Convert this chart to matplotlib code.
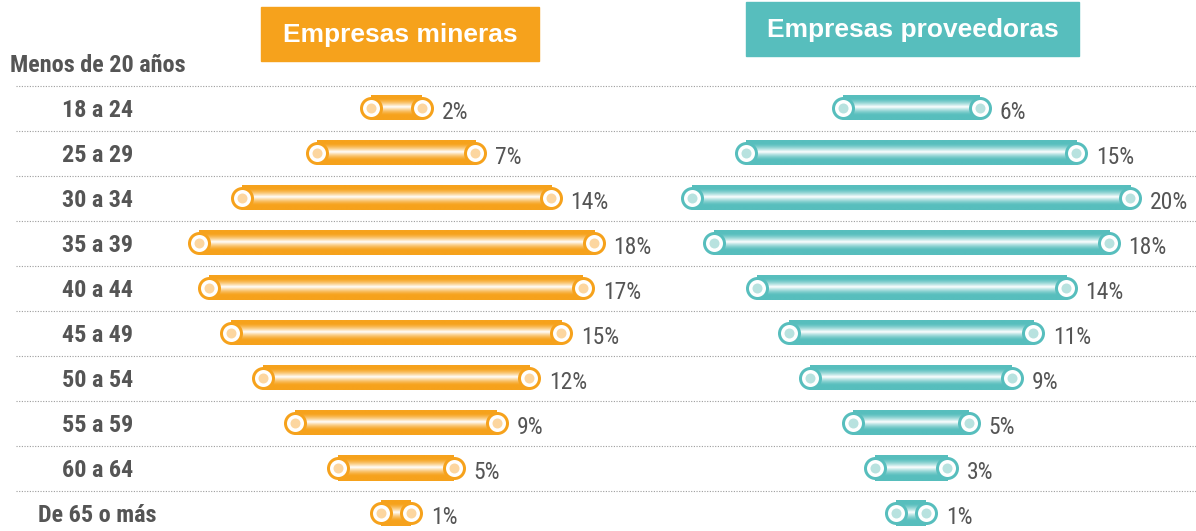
import numpy as np
import matplotlib
matplotlib.use("Agg")
import matplotlib.pyplot as plt
from matplotlib.colors import to_rgb
from matplotlib.patches import Rectangle
from matplotlib import font_manager as fm

# ---------------- data ----------------
header = "Menos de 20 años"
categories = ["18 a 24", "25 a 29", "30 a 34", "35 a 39", "40 a 44",
              "45 a 49", "50 a 54", "55 a 59", "60 a 64", "De 65 o más"]
mineras = [2, 7, 14, 18, 17, 15, 12, 9, 5, 1]
proveedoras = [6, 15, 20, 18, 14, 11, 9, 5, 3, 1]
title_mineras = "Empresas mineras"
title_proveedoras = "Empresas proveedoras"

# ---------------- style ----------------
W, H = 1196, 531
PX = 21.5      # pixels per percent point
ROW = 45       # pixels per row
ROW0 = 108     # pixel y of first row centre
ORANGE = "#F6A21C"
ORANGE_DOT = "#FCD6A0"
TEAL = "#57BEBD"
TEAL_DOT = "#B8E2DF"
TXT = "#555555"
SANS = ["Liberation Sans", "DejaVu Sans"]


def pick_narrow():
    cands = [("Liberation Sans Narrow", "normal"), ("Arial Narrow", "normal"),
             ("Roboto Condensed", "normal"), ("DejaVu Sans Condensed", "normal"),
             ("DejaVu Sans", "condensed"), ("Roboto", "normal")]
    for fam, stretch in cands:
        try:
            path = fm.findfont(fm.FontProperties(family=fam, weight="bold",
                                                 stretch=stretch),
                               fallback_to_default=False)
        except Exception:
            continue
        name = fm.get_font(path).family_name
        if stretch == "condensed" and "ondensed" not in path:
            continue
        if fam.split()[0] in name:
            return fam, stretch
    return "DejaVu Sans", "normal"


NFAM, NSTRETCH = pick_narrow()
NARROW = [NFAM, "DejaVu Sans"]

fig = plt.figure(figsize=(W / 100, H / 100), dpi=100)
fig.patch.set_facecolor("white")
renderer = fig.canvas.get_renderer()


def fit_size(text, target_px, base, weight):
    t = fig.text(0, 0, text, fontsize=base, fontweight=weight,
                 family=NARROW, fontstretch=NSTRETCH)
    w = t.get_window_extent(renderer=renderer).width
    t.remove()
    return min(base * target_px / w, base)


LABEL_FS = fit_size(header, 176, 18.5, "bold")
PCT_FS = fit_size("20%", 40, 17, "normal")


def make_ax(center_px):
    ax = fig.add_axes([0, 0, 1, 1])
    ax.set_xlim(-center_px / PX, (W - center_px) / PX)
    ax.set_ylim((H - ROW0) / ROW, -ROW0 / ROW)
    ax.set_autoscale_on(False)
    ax.axis("off")
    ax.patch.set_alpha(0)
    return ax


def gradient(color, n=64):
    c = np.array(to_rgb(color))
    t = np.linspace(0, 1, n)
    w = np.clip(1 - np.abs(t - 0.47) / 0.34, 0, 1) ** 1.5
    img = c[None, :] * (1 - w[:, None]) + np.ones(3)[None, :] * w[:, None]
    return img[:, None, :]


def draw_panel(ax, values, color, dot_color):
    pad = 4 / PX
    hh = 12.5 / ROW
    grad = gradient(color)
    for i, v in enumerate(values):
        x0, x1 = -v / 2 - pad, v / 2 + pad
        ax.imshow(grad, extent=(x0, x1, i + hh, i - hh), aspect="auto",
                  interpolation="bilinear", zorder=2)
        ax.scatter([x0, x1], [i, i], s=(20 * 0.72) ** 2, facecolor="white",
                   edgecolor=color, linewidths=3 * 0.72, zorder=3)
        ax.scatter([x0, x1], [i, i], s=(10 * 0.72) ** 2, color=dot_color,
                   linewidths=0, zorder=4)
        ax.annotate(f"{v}%", xy=(x1, i), xytext=(20 * 0.72, -3),
                    textcoords="offset points", ha="left", va="center",
                    fontsize=PCT_FS, color=TXT, family=NARROW,
                    fontstretch=NSTRETCH, zorder=5)


ax_l = make_ax(396)
ax_r = make_ax(911)

# separators
ax_l.hlines(np.arange(len(categories)) - 0.5, 16 / W, 1,
            transform=ax_l.get_yaxis_transform(), colors="#9c9c9c",
            linestyles=(0, (1, 1.4)), linewidth=0.8, zorder=1)

# row labels
LBL_DY = 2.5 / ROW
for i, cat in enumerate(categories):
    ax_l.text(97.5 / W, i + LBL_DY, cat, transform=ax_l.get_yaxis_transform(),
              ha="center", va="center", fontsize=LABEL_FS, fontweight="bold",
              color=TXT, family=NARROW, fontstretch=NSTRETCH)
ax_l.text(10 / W, (65 - ROW0) / ROW, header, transform=ax_l.get_yaxis_transform(),
          ha="left", va="center", fontsize=LABEL_FS, fontweight="bold",
          color=TXT, family=NARROW, fontstretch=NSTRETCH)

draw_panel(ax_l, mineras, ORANGE, ORANGE_DOT)
draw_panel(ax_r, proveedoras, TEAL, TEAL_DOT)

# title boxes
fig.add_artist(Rectangle((261 / W, 1 - 61 / H), 278 / W, 54 / H,
                         transform=fig.transFigure, color=ORANGE, zorder=0))
fig.text(400 / W, 1 - 35 / H, title_mineras, ha="center", va="center",
         fontsize=19, fontweight="bold", color="white", family=SANS)
fig.add_artist(Rectangle((746 / W, 1 - 56 / H), 333 / W, 54 / H,
                         transform=fig.transFigure, color=TEAL, zorder=0))
fig.text(912.5 / W, 1 - 30 / H, title_proveedoras, ha="center", va="center",
         fontsize=19, fontweight="bold", color="white", family=SANS)

fig.savefig("out.png", dpi=100, facecolor="white")
